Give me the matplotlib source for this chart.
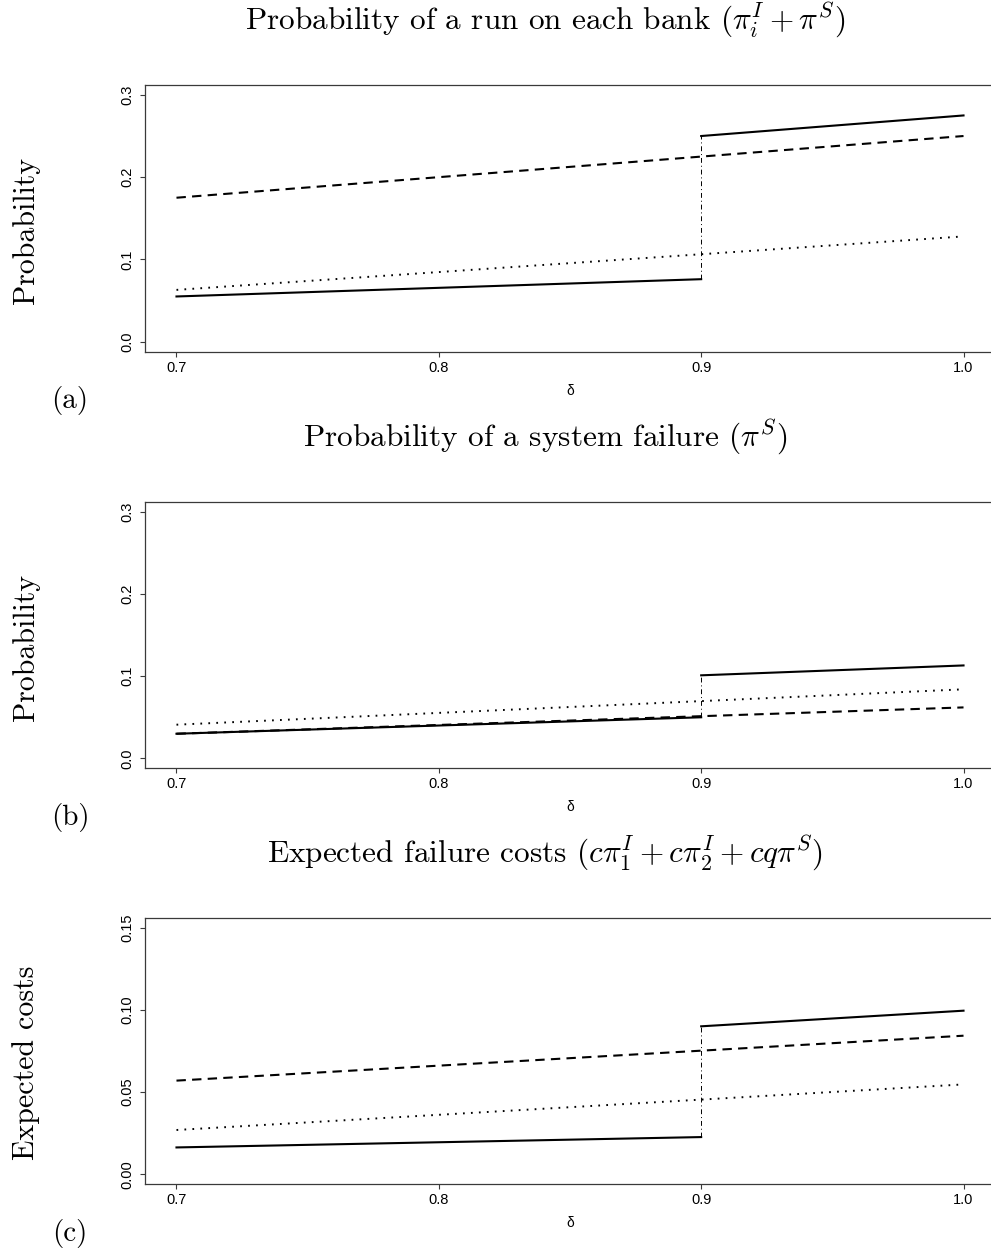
import matplotlib
matplotlib.use('Agg')
import matplotlib.pyplot as plt

plt.rcParams['mathtext.fontset'] = 'cm'
plt.rcParams['axes.unicode_minus'] = False

W, H = 991, 1252

# x values (delta)
delta = [0.7, 1.0]
delta_lo = [0.7, 0.9]
delta_hi = [0.9, 1.0]

# (a) probability of a run on each bank
a_solid_lo = [0.055, 0.076]
a_solid_hi = [0.250, 0.275]
a_dashed = [0.175, 0.250]
a_dotted = [0.063, 0.128]

# (b) probability of a system failure
b_solid_lo = [0.030, 0.050]
b_solid_hi = [0.101, 0.113]
b_dashed = [0.030, 0.062]
b_dotted = [0.041, 0.084]

# (c) expected failure costs
c_solid_lo = [0.0164, 0.0227]
c_solid_hi = [0.090, 0.0995]
c_dashed = [0.057, 0.0843]
c_dotted = [0.027, 0.0547]

x_ticks = [0.7, 0.8, 0.9, 1.0]
x_labels = ['0.7', '0.8', '0.9', '1.0']
y_ticks_ab = [0.0, 0.1, 0.2, 0.3]
y_labels_ab = ['0.0', '0.1', '0.2', '0.3']
y_ticks_c = [0.0, 0.05, 0.10, 0.15]
y_labels_c = ['0.00', '0.05', '0.10', '0.15']

panels = [
    dict(title=r'Probability of a run on each bank ($\pi_i^I + \pi^S$)',
         ylabel='Probability', tag='(a)', top=85,
         solid_lo=a_solid_lo, solid_hi=a_solid_hi, dashed=a_dashed, dotted=a_dotted,
         yticks=y_ticks_ab, ylabels=y_labels_ab, ymax=0.3),
    dict(title=r'Probability of a system failure ($\pi^S$)',
         ylabel='Probability', tag='(b)', top=501.7,
         solid_lo=b_solid_lo, solid_hi=b_solid_hi, dashed=b_dashed, dotted=b_dotted,
         yticks=y_ticks_ab, ylabels=y_labels_ab, ymax=0.3),
    dict(title=r'Expected failure costs ($c\pi_1^I + c\pi_2^I + cq\pi^S$)',
         ylabel='Expected costs', tag='(c)', top=917.7,
         solid_lo=c_solid_lo, solid_hi=c_solid_hi, dashed=c_dashed, dotted=c_dotted,
         yticks=y_ticks_c, ylabels=y_labels_c, ymax=0.15),
]

fig = plt.figure(figsize=(W / 100, H / 100), dpi=100)

left, right, height = 145, 995, 266.6
serif = 'cmr10'
spine_col = '#3a3a3a'

for p in panels:
    top = p['top']
    bottom = top + height
    ax = fig.add_axes([left / W, 1 - bottom / H, (right - left) / W, height / H])

    ax.plot(delta, p['dashed'], color='black', lw=1.5, dashes=(4.5, 3))
    ax.plot(delta, p['dotted'], color='black', lw=1.4, dashes=(0.9, 3.2))
    ax.plot(delta_lo, p['solid_lo'], color='black', lw=1.5)
    ax.plot(delta_hi, p['solid_hi'], color='black', lw=1.5)
    # jump at delta = 0.9
    ax.plot([delta_lo[1], delta_hi[0]], [p['solid_lo'][1], p['solid_hi'][0]],
            color='black', lw=0.7, dashes=(5, 3, 1, 3))

    pad = 0.04 * 0.3
    ax.set_xlim(0.7 - pad, 1.0 + pad)
    ypad = 0.04 * p['ymax']
    ax.set_ylim(-ypad, p['ymax'] + ypad)

    ax.set_xticks(x_ticks)
    ax.set_xticklabels(x_labels, fontfamily='Liberation Sans', fontsize=10.5)
    ax.set_yticks(p['yticks'])
    ax.set_yticklabels(p['ylabels'], fontfamily='Liberation Sans', fontsize=10.5,
                       rotation=90, va='center')
    ax.tick_params(direction='out', length=3.6, width=0.8, color=spine_col)
    ax.tick_params(axis='x', pad=3)
    ax.tick_params(axis='y', pad=4)
    for s in ax.spines.values():
        s.set_linewidth(0.9)
        s.set_color(spine_col)

    # texts
    fig.text(545 / W, 1 - (top - 56) / H, p['title'], ha='center', va='baseline',
             fontfamily=serif, fontsize=22.5)
    fig.text(26 / W, 1 - (top + height / 2 + 12) / H, p['ylabel'], rotation=90,
             ha='center', va='center', fontfamily=serif, fontsize=21.5)
    fig.text(570 / W, 1 - (bottom + 39) / H, 'δ', ha='center', va='center',
             fontfamily='Liberation Sans', fontsize=10)
    fig.text(70 / W, 1 - (bottom + 49) / H, p['tag'], ha='center', va='center',
             fontfamily=serif, fontsize=21)

fig.savefig('out.png', dpi=100)
